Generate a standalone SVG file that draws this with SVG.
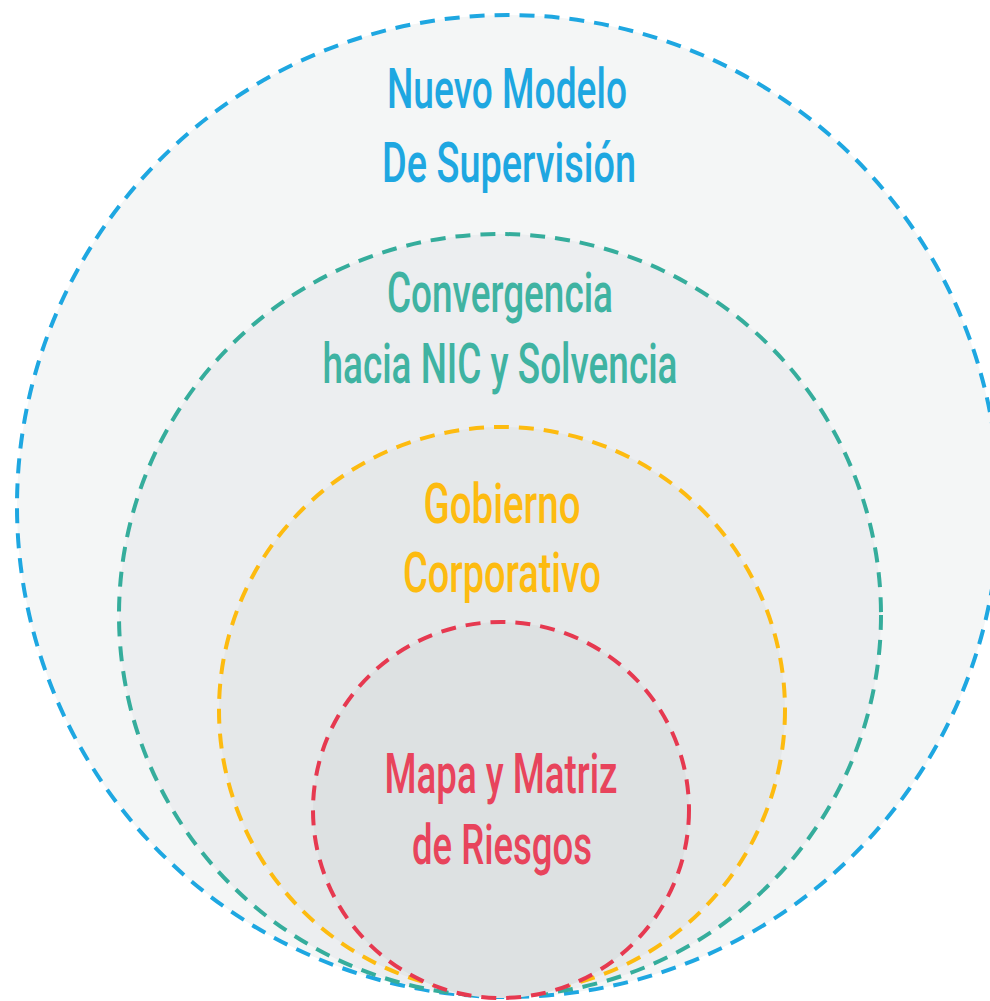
<svg xmlns="http://www.w3.org/2000/svg" width="990" height="1001" viewBox="0 0 990 1001">
<style>
.ring{stroke-width:4;stroke-dasharray:15 10}
.t{font-family:Roboto,"Liberation Sans",sans-serif;font-weight:500;font-size:55px;text-anchor:middle}
</style>
<rect width="990" height="1001" fill="#ffffff"/>
<g id="nuevo-modelo">
<circle class="ring" cx="508" cy="506" r="491" fill="#f4f6f6" stroke="#1ea7e1"/>
<text class="t" x="507" y="108" fill="#1ea7e1" textLength="240" lengthAdjust="spacingAndGlyphs">Nuevo Modelo</text>
<text class="t" x="509" y="182" fill="#1ea7e1" textLength="254" lengthAdjust="spacingAndGlyphs">De Supervisión</text>
</g>
<g id="convergencia">
<circle class="ring" cx="500" cy="615" r="381" fill="#eceef0" stroke="#35ad9c"/>
<text class="t" x="500" y="312" fill="#3fb3a2" textLength="226" lengthAdjust="spacingAndGlyphs">Convergencia</text>
<text class="t" x="500" y="383" fill="#3fb3a2" textLength="355" lengthAdjust="spacingAndGlyphs">hacia NIC y Solvencia</text>
</g>
<g id="gobierno">
<circle class="ring" cx="502" cy="710" r="283" fill="#e5e8e9" stroke="#fdbb10"/>
<text class="t" x="502" y="523" fill="#fdbb10" textLength="157" lengthAdjust="spacingAndGlyphs">Gobierno</text>
<text class="t" x="502" y="592" fill="#fdbb10" textLength="198" lengthAdjust="spacingAndGlyphs">Corporativo</text>
</g>
<g id="mapa">
<circle class="ring" cx="501" cy="810" r="188" fill="#dde1e2" stroke="#e63950"/>
<text class="t" x="501" y="793" fill="#e8445c" textLength="233" lengthAdjust="spacingAndGlyphs">Mapa y Matriz</text>
<text class="t" x="502" y="864" fill="#e8445c" textLength="180" lengthAdjust="spacingAndGlyphs">de Riesgos</text>
</g>
<g id="connectors"/>
</svg>
